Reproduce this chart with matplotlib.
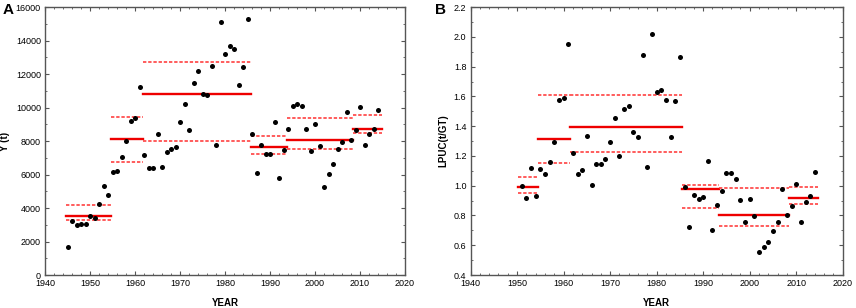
import matplotlib
matplotlib.use("Agg")
from matplotlib import pyplot as plt
from matplotlib.ticker import MultipleLocator, FormatStrFormatter

plt.rcParams['font.family'] = ['Liberation Sans', 'DejaVu Sans']

# panel A: catch Y (t)
years_a = list(range(1945, 2015))
y_a = [1700, 3200, 3000, 3050, 3050, 3550, 3390, 4250, 5340, 4800,
       6140, 6240, 7070, 8010, 9210, 9370, 11220, 7150, 6400, 6400,
       8410, 6460, 7370, 7510, 7670, 9110, 10200, 8650, 11440, 12160,
       10800, 10740, 12460, 7750, 15090, 13190, 13690, 13510, 11360, 12420,
       15290, 8410, 6080, 7790, 7210, 7250, 9130, 5780, 7470, 8710,
       10080, 10220, 10080, 8710, 7430, 9030, 7730, 5240, 6040, 6660,
       7550, 7950, 9710, 8070, 8670, 10040, 7750, 8430, 8710, 9860]

# panel B: LPUC (t/GT)
years_b = list(range(1951, 2015))
y_b = [0.995, 0.917, 1.119, 0.928, 1.110, 1.081, 1.157, 1.293, 1.575, 1.589,
       1.951, 1.217, 1.076, 1.105, 1.336, 1.004, 1.148, 1.143, 1.177, 1.291,
       1.452, 1.197, 1.515, 1.537, 1.363, 1.329, 1.880, 1.125, 2.018, 1.627,
       1.642, 1.578, 1.327, 1.566, 1.864, 0.989, 0.725, 0.940, 0.913, 0.922,
       1.166, 0.704, 0.872, 0.966, 1.083, 1.083, 1.045, 0.904, 0.758, 0.913,
       0.794, 0.554, 0.590, 0.619, 0.698, 0.758, 0.975, 0.801, 0.861, 1.013,
       0.758, 0.890, 0.928, 1.094]

# regime segments: start, end, mean, lower, upper
seg_start_a = [1944.6, 1954.7, 1961.7, 1985.7, 1993.7, 2008.5]
seg_end_a = [1954.7, 1961.7, 1985.7, 1993.7, 2008.5, 2014.8]
seg_mean_a = [3530, 8150, 10840, 7670, 8070, 8750]
seg_low_a = [3290, 6760, 8030, 7255, 7550, 8490]
seg_high_a = [4200, 9430, 12750, 8310, 9390, 9550]

seg_start_b = [1950.1, 1954.5, 1961.4, 1985.5, 1993.4, 2008.5]
seg_end_b = [1954.5, 1961.4, 1985.5, 1993.4, 2008.5, 2014.6]
seg_mean_b = [0.991, 1.313, 1.392, 0.975, 0.805, 0.915]
seg_low_b = [0.951, 1.150, 1.224, 0.850, 0.731, 0.875]
seg_high_b = [1.058, 1.611, 1.611, 1.002, 0.982, 0.991]


def draw_panel(ax, x, y, s0, s1, m, lo, hi):
    for i in range(len(s0)):
        ax.plot([s0[i], s1[i]], [m[i], m[i]], color='#ee0000', lw=1.7, zorder=2)
        ax.plot([s0[i], s1[i]], [lo[i], lo[i]], color='#ff3030', lw=1.1,
                linestyle=(0, (2.2, 1.2)), zorder=2)
        ax.plot([s0[i], s1[i]], [hi[i], hi[i]], color='#ff3030', lw=1.1,
                linestyle=(0, (2.2, 1.2)), zorder=2)
    ax.scatter(x, y, s=13, color='black', zorder=3, linewidths=0)
    ax.set_xlim(1940, 2020)
    ax.xaxis.set_major_locator(MultipleLocator(10))
    ax.xaxis.set_minor_locator(MultipleLocator(2))
    ax.tick_params(which='both', direction='in', top=True, right=True,
                   labelsize=6.5, color='#555555', pad=3)
    ax.tick_params(which='major', length=3)
    ax.tick_params(which='minor', length=1.5)
    for sp in ax.spines.values():
        sp.set_color('#555555')
        sp.set_linewidth(1.0)
    ax.set_xlabel('YEAR', fontsize=7, fontweight='bold', labelpad=7)


fig = plt.figure(figsize=(8.56, 3.08), dpi=100)

ax1 = fig.add_axes([0.0526, 0.107, 0.4206, 0.870])
draw_panel(ax1, years_a, y_a, seg_start_a, seg_end_a, seg_mean_a, seg_low_a, seg_high_a)
ax1.set_ylim(0, 16000)
ax1.yaxis.set_major_locator(MultipleLocator(2000))
ax1.yaxis.set_minor_locator(MultipleLocator(1000))
ax1.set_ylabel('Y (t)', fontsize=7, fontweight='bold', labelpad=4)
fig.text(0.003, 0.955, 'A', fontsize=11, fontweight='bold')

ax2 = fig.add_axes([0.5497, 0.107, 0.4348, 0.870])
draw_panel(ax2, years_b, y_b, seg_start_b, seg_end_b, seg_mean_b, seg_low_b, seg_high_b)
ax2.set_ylim(0.4, 2.2)
ax2.yaxis.set_major_locator(MultipleLocator(0.2))
ax2.yaxis.set_minor_locator(MultipleLocator(0.1))
ax2.yaxis.set_major_formatter(FormatStrFormatter('%.1f'))
ax2.set_ylabel('LPUC(t/GT)', fontsize=7, fontweight='bold', labelpad=4)
fig.text(0.508, 0.955, 'B', fontsize=11, fontweight='bold')

fig.savefig('out.png', dpi=100)
